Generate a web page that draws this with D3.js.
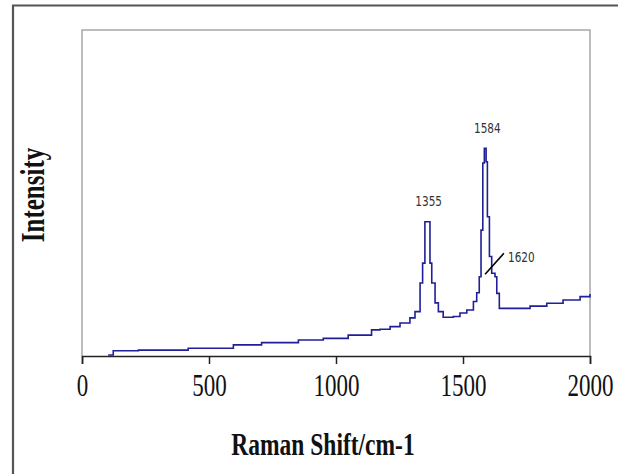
<!DOCTYPE html>
<html>
<head>
<meta charset="utf-8">
<script src="https://cdn.jsdelivr.net/npm/d3@7"></script>
<style>
  html, body { margin: 0; padding: 0; background: #fff; }
  svg { display: block; }
</style>
</head>
<body>
<svg id="chart" width="618" height="474"></svg>
<script>
// Data
const ramanShift = [103, 123, 222, 418, 596, 707, 852, 950, 1048, 1140, 1173, 1213, 1252, 1291, 1311, 1331, 1341, 1350, 1363, 1370, 1377, 1390, 1403, 1422, 1462, 1488, 1515, 1541, 1554, 1564, 1571, 1578, 1584, 1591, 1596, 1604, 1613, 1626, 1633, 1643, 1697, 1764, 1830, 1894, 1961, 2000];
const intensity = [0.3, 1.6, 1.8, 2.4, 3.4, 4.1, 4.9, 5.4, 6.4, 8.0, 8.2, 9.0, 10.1, 11.7, 13.6, 22.4, 28.5, 41.2, 41.2, 28.5, 22.4, 16.3, 13.6, 11.9, 12.1, 13.2, 14.1, 16.7, 19.4, 24.3, 38.6, 59.2, 63.7, 59.6, 42.7, 30.5, 25.4, 24.3, 19.2, 14.6, 14.6, 15.3, 16.2, 17.2, 18.2, 19.0];
const xTicks = [0, 500, 1000, 1500, 2000];
const peakLabels = ["1355", "1584", "1620"];
const peakShift = [1357, 1584, 1620];
const peakValue = [41.2, 63.7, 24.3];

const svg = d3.select("#chart");
const plot = { left: 82, right: 590, top: 30, bottom: 356 };
const serif = "'Liberation Serif', 'Times New Roman', serif";
const stretch = 1.33;

// outer frame
svg.append("path")
  .attr("d", `M13,474 L13,5.5 L618,5.5`)
  .attr("fill", "none").attr("stroke", "#555").attr("stroke-width", 2.2);

const x = d3.scaleLinear().domain([0, 2000]).range([plot.left, plot.right]);
const y = d3.scaleLinear().domain([0, 100]).range([plot.bottom, plot.top]);

// plot frame (gray left, top, right)
svg.append("path")
  .attr("d", `M${plot.left},${plot.bottom} L${plot.left},${plot.top} L${plot.right},${plot.top} L${plot.right},${plot.bottom}`)
  .attr("fill", "none").attr("stroke", "#a8a8a8").attr("stroke-width", 1.5);

// x axis
const xAxis = d3.axisBottom(x).tickValues(xTicks).tickSize(8).tickPadding(10).tickFormat(d3.format("d"));
const gx = svg.append("g").attr("transform", `translate(0,${plot.bottom})`).call(xAxis);
gx.select(".domain").attr("stroke", "#222").attr("stroke-width", 1.5);
gx.selectAll(".tick line").attr("stroke", "#222").attr("stroke-width", 1.5);
gx.selectAll(".tick text")
  .attr("font-family", serif)
  .attr("font-size", 23).attr("fill", "#111")
  .attr("dy", null)
  .attr("y", 40 / 1.38)
  .attr("transform", "scale(1,1.38)");

// line
const pts = ramanShift.map((s, i) => [s, intensity[i]]);
svg.append("path")
  .datum(pts)
  .attr("fill", "none")
  .attr("stroke", "#1f1f99")
  .attr("stroke-width", 1.6)
  .attr("d", d3.line().x(d => x(d[0])).y(d => y(d[1])).curve(d3.curveStepAfter));

// peak labels
const labelPos = [[x(1357) + 2, y(peakValue[0]) - 16, "middle"],
                  [x(1584) + 3, y(peakValue[1]) - 15, "middle"],
                  [x(1677), y(30.1) + 4, "start"]];
peakLabels.forEach((t, i) => {
  svg.append("g")
    .attr("transform", `translate(${labelPos[i][0]},${labelPos[i][1]}) scale(1,1.3)`)
    .append("text")
    .attr("text-anchor", labelPos[i][2])
    .attr("font-family", "'DejaVu Sans', sans-serif")
    .attr("font-size", 10.5).attr("fill", "#333")
    .text(t);
});
// leader line for 1620
svg.append("line")
  .attr("x1", x(1587)).attr("y1", y(25.1))
  .attr("x2", x(1661)).attr("y2", y(31.5))
  .attr("stroke", "#000").attr("stroke-width", 1.6);

// axis titles
svg.append("g")
  .attr("transform", `translate(${(plot.left + plot.right) / 2 - 13},455) scale(1,${stretch})`)
  .append("text")
  .attr("text-anchor", "middle")
  .attr("font-family", serif)
  .attr("font-weight", "bold").attr("font-size", 23.5).attr("fill", "#111")
  .text("Raman Shift/cm-1");

svg.append("g")
  .attr("transform", `translate(44,195) rotate(-90) scale(1,${stretch})`)
  .append("text")
  .attr("text-anchor", "middle")
  .attr("font-family", serif)
  .attr("font-weight", "bold").attr("font-size", 25).attr("fill", "#111")
  .text("Intensity");
</script>
</body>
</html>
